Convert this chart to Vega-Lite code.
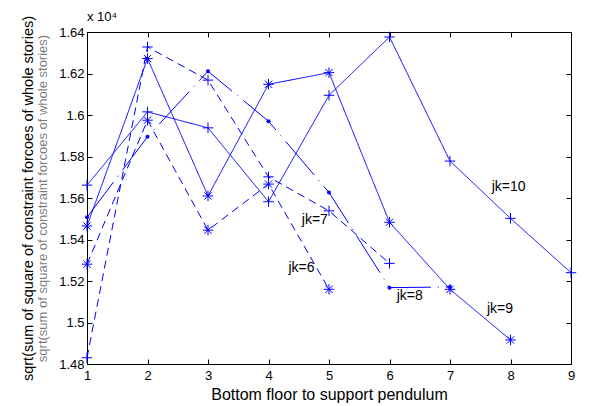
{
  "$schema": "https://vega.github.io/schema/vega-lite/v6.json",
  "width": 484,
  "height": 332,
  "autosize": {"type": "none"},
  "padding": {"left": 87, "top": 32, "right": 20, "bottom": 42},
  "background": "white",
  "config": {
    "font": "Liberation Sans",
    "view": {"stroke": "black", "strokeWidth": 1},
    "axis": {
      "domainColor": "black",
      "tickColor": "black",
      "labelColor": "black",
      "titleColor": "black",
      "grid": false,
      "labelFlush": false,
      "labelFont": "Liberation Sans",
      "titleFont": "Liberation Sans",
      "titleFontWeight": "normal"
    }
  },
  "title": {
    "text": "x 10⁴",
    "anchor": "start",
    "frame": "group",
    "fontSize": 13,
    "fontWeight": "normal",
    "color": "black",
    "font": "Liberation Sans",
    "baseline": "alphabetic",
    "offset": 5,
    "dy": 24
  },
  "datasets": {
    "series": [
      {"jk": "jk=6", "x": 1, "y": 15281},
      {"jk": "jk=6", "x": 2, "y": 15975},
      {"jk": "jk=6", "x": 3, "y": 15445},
      {"jk": "jk=6", "x": 4, "y": 15667},
      {"jk": "jk=6", "x": 5, "y": 15160},
      {"jk": "jk=7", "x": 1, "y": 14830},
      {"jk": "jk=7", "x": 2, "y": 16328},
      {"jk": "jk=7", "x": 3, "y": 16168},
      {"jk": "jk=7", "x": 4, "y": 15702},
      {"jk": "jk=7", "x": 5, "y": 15538},
      {"jk": "jk=7", "x": 6, "y": 15285},
      {"jk": "jk=8", "x": 1, "y": 15507},
      {"jk": "jk=8", "x": 2, "y": 15895},
      {"jk": "jk=8", "x": 3, "y": 16211},
      {"jk": "jk=8", "x": 4, "y": 15970},
      {"jk": "jk=8", "x": 5, "y": 15627},
      {"jk": "jk=8", "x": 6, "y": 15168},
      {"jk": "jk=8", "x": 7, "y": 15171},
      {"jk": "jk=9", "x": 1, "y": 15465},
      {"jk": "jk=9", "x": 2, "y": 16272},
      {"jk": "jk=9", "x": 3, "y": 15610},
      {"jk": "jk=9", "x": 4, "y": 16148},
      {"jk": "jk=9", "x": 5, "y": 16204},
      {"jk": "jk=9", "x": 6, "y": 15483},
      {"jk": "jk=9", "x": 7, "y": 15160},
      {"jk": "jk=9", "x": 8, "y": 14916},
      {"jk": "jk=10", "x": 1, "y": 15662},
      {"jk": "jk=10", "x": 2, "y": 16015},
      {"jk": "jk=10", "x": 3, "y": 15938},
      {"jk": "jk=10", "x": 4, "y": 15582},
      {"jk": "jk=10", "x": 5, "y": 16095},
      {"jk": "jk=10", "x": 6, "y": 16376},
      {"jk": "jk=10", "x": 7, "y": 15778},
      {"jk": "jk=10", "x": 8, "y": 15502},
      {"jk": "jk=10", "x": 9, "y": 15240}
    ],
    "labels": [
      {"text": "jk=10", "x": 7.69, "y": 15652},
      {"text": "jk=7", "x": 4.55, "y": 15493},
      {"text": "jk=6", "x": 4.33, "y": 15265},
      {"text": "jk=8", "x": 6.12, "y": 15127},
      {"text": "jk=9", "x": 7.61, "y": 15065}
    ]
  },
  "layer": [
    {
      "data": {"name": "series"},
      "mark": {"type": "line", "color": "#0000ff", "strokeWidth": 1},
      "encoding": {
        "x": {
          "field": "x", "type": "quantitative",
          "scale": {"domain": [1, 9], "nice": false, "zero": false},
          "axis": {
            "orient": "bottom",
            "values": [1, 2, 3, 4, 5, 6, 7, 8, 9],
            "tickSize": -5,
            "labelPadding": 10,
            "labelFontSize": 13,
            "title": "Bottom floor to support pendulum",
            "titleFontSize": 16,
            "titlePadding": 4
          }
        },
        "y": {
          "field": "y", "type": "quantitative",
          "scale": {"domain": [14800, 16400], "nice": false, "zero": false},
          "axis": {
            "orient": "left",
            "values": [14800, 15000, 15200, 15400, 15600, 15800, 16000, 16200, 16400],
            "labelExpr": "format(datum.value / 10000, '.4~g')",
            "tickSize": -5,
            "labelPadding": 8,
            "labelFontSize": 13,
            "title": "sqrt(sum of square of constraint forcoes of whole stories)",
            "titleFontSize": 14.5,
            "titleBaseline": "middle",
            "titleX": -59
          }
        },
        "detail": {"field": "jk"},
        "strokeDash": {
          "field": "jk", "type": "nominal",
          "scale": {
            "domain": ["jk=6", "jk=7", "jk=8", "jk=9", "jk=10"],
            "range": [[8, 5], [8, 5], [44, 7, 1, 7], [1, 0], [1, 0]]
          },
          "legend": null
        }
      }
    },
    {
      "data": {"name": "series"},
      "transform": [{"filter": "datum.jk !== 'jk=8'"}],
      "mark": {"type": "point", "filled": false, "color": "#0000ff", "strokeWidth": 1, "opacity": 1},
      "encoding": {
        "x": {
          "field": "x", "type": "quantitative",
          "axis": {"orient": "top", "values": [1, 2, 3, 4, 5, 6, 7, 8, 9], "tickSize": -5, "labels": false, "title": null}
        },
        "y": {
          "field": "y", "type": "quantitative",
          "axis": {"orient": "right", "values": [14800, 15000, 15200, 15400, 15600, 15800, 16000, 16200, 16400], "tickSize": -5, "labels": false, "title": null}
        },
        "shape": {
          "field": "jk", "type": "nominal",
          "scale": {
            "domain": ["jk=6", "jk=7", "jk=9", "jk=10"],
            "range": [
              "M-1,0L1,0M0,-1L0,1M-0.7,-0.7L0.7,0.7M-0.7,0.7L0.7,-0.7",
              "M-1,0L1,0M0,-1L0,1",
              "M-1,0L1,0M0,-1L0,1M-0.7,-0.7L0.7,0.7M-0.7,0.7L0.7,-0.7",
              "M-1,0L1,0M0,-1L0,1"
            ]
          },
          "legend": null
        },
        "size": {"value": 110}
      }
    },
    {
      "data": {"name": "series"},
      "transform": [{"filter": "datum.jk === 'jk=8'"}],
      "mark": {"type": "point", "shape": "circle", "filled": true, "color": "#0000ff", "opacity": 1, "size": 16},
      "encoding": {
        "x": {"field": "x", "type": "quantitative", "axis": null},
        "y": {"field": "y", "type": "quantitative", "axis": null}
      }
    },
    {
      "data": {"name": "labels"},
      "mark": {"type": "text", "align": "left", "baseline": "middle", "fontSize": 14, "color": "black", "font": "Liberation Sans"},
      "encoding": {
        "x": {"field": "x", "type": "quantitative", "axis": null},
        "y": {
          "field": "y", "type": "quantitative",
          "axis": {
            "orient": "left",
            "domain": false, "ticks": false, "labels": false,
            "title": "sqrt(sum of square of constraint forcoes of whole stories)",
            "titleFontSize": 13,
            "titleOpacity": 0.55,
            "titleBaseline": "middle",
            "titleX": -45
          }
        },
        "text": {"field": "text"}
      }
    }
  ],
  "resolve": {"axis": {"x": "independent", "y": "independent"}}
}
